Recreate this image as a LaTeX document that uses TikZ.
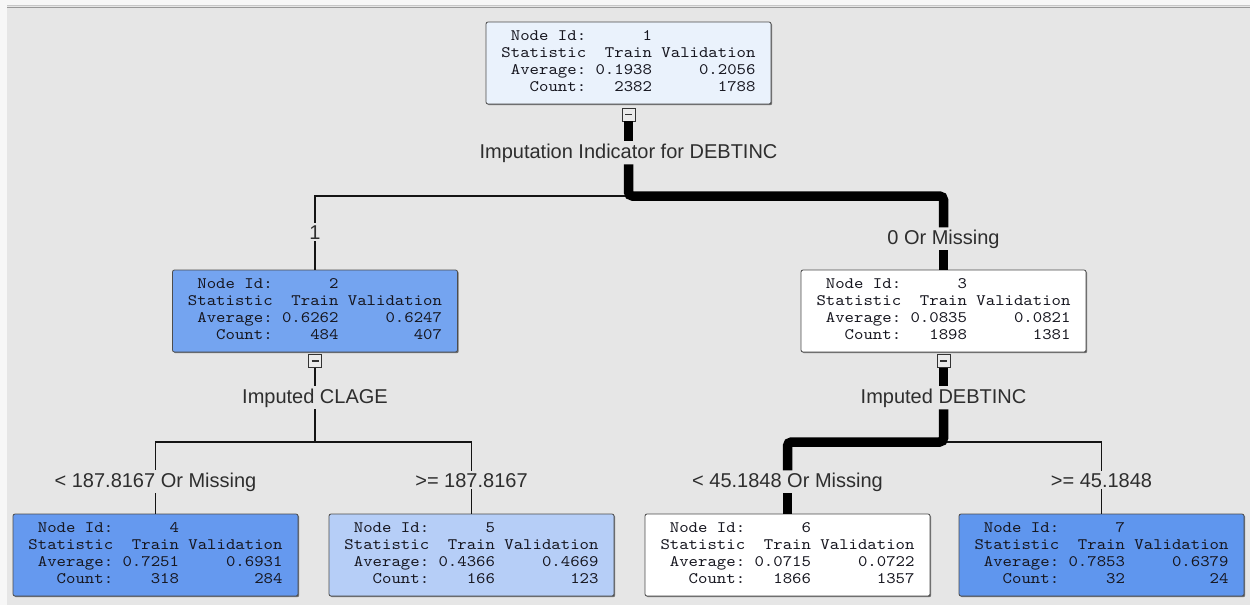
\documentclass[tikz,border=0pt]{standalone}
\usepackage{fontspec}
\usetikzlibrary{shadows}
\newfontfamily\lblfont{Liberation Sans}
\newfontfamily\nodefont{lmmono10-regular.otf}[FakeStretch=1.12]
\definecolor{outerbg}{HTML}{F7F7F7}
\definecolor{panelbg}{HTML}{E6E6E6}
\definecolor{nodetext}{HTML}{16161F}
\definecolor{lbltext}{HTML}{2E2E2E}
\definecolor{fillA}{HTML}{EAF2FC}
\definecolor{fillB}{HTML}{74A4F0}
\definecolor{fillC}{HTML}{B6CEF7}
\definecolor{fillD}{HTML}{6599EF}
\definecolor{fillE}{HTML}{5F96EE}
\newcommand{\nodestats}[5]{{\nodefont\fontsize{16}{17}\selectfont
\begin{tabular}{@{}r@{\ }r@{\ }r@{}}
Node Id: & #1 & \\
Statistic & Train & Validation\\
Average: & #2 & #3\\
Count: & #4 & #5
\end{tabular}}}
\tikzset{
  statbox/.style={draw=black!70, line width=0.8pt, rounded corners=2pt,
    minimum width=285pt, minimum height=82pt, inner sep=0pt, text=nodetext,
    drop shadow={shadow xshift=1.2pt, shadow yshift=-1.2pt, opacity=0.5, fill=black}},
  edgelabel/.style={font=\lblfont\fontsize{20}{22}\selectfont, text=lbltext,
    inner sep=2pt, anchor=base},
  collapse/.style={draw=black!80, fill=white!92!black, line width=0.8pt,
    minimum size=13pt, inner sep=0pt,
    path picture={\draw[black!80, line width=1.3pt]
      ([xshift=-3.5pt]path picture bounding box.center) --
      ([xshift=3.5pt]path picture bounding box.center);}},
  thinline/.style={draw=black!92, line width=1.6pt},
  thickline/.style={draw=black, line width=9.5pt, rounded corners=4pt}
}
\begin{document}
\begin{tikzpicture}[x=1pt, y=-1pt]
\useasboundingbox (0,0) rectangle (1250,605);
\fill[outerbg] (0,0) rectangle (1250,605);
\fill[panelbg] (7,5) rectangle (1250,605);
\draw[black!22, line width=1pt] (7,5.5) -- (1250,5.5);
\draw[black!40, line width=1.5pt] (7,7.5) -- (1250,7.5);

% tree nodes
\node[statbox, fill=fillA] (n1) at (628.5,63) {\nodestats{1}{0.1938}{0.2056}{2382}{1788}};
\node[statbox, fill=fillB] (n2) at (315,311) {\nodestats{2}{0.6262}{0.6247}{484}{407}};
\node[statbox, fill=white] (n3) at (943.5,311) {\nodestats{3}{0.0835}{0.0821}{1898}{1381}};
\node[statbox, fill=fillD] (n4) at (155.5,555) {\nodestats{4}{0.7251}{0.6931}{318}{284}};
\node[statbox, fill=fillC] (n5) at (471.5,555) {\nodestats{5}{0.4366}{0.4669}{166}{123}};
\node[statbox, fill=white] (n6) at (787.5,555) {\nodestats{6}{0.0715}{0.0722}{1866}{1357}};
\node[statbox, fill=fillE] (n7) at (1101.5,555) {\nodestats{7}{0.7853}{0.6379}{32}{24}};

% collapse buttons
\node[collapse] (b1) at (628.5,114.5) {};
\node[collapse] (b2) at (315,361) {};
\node[collapse] (b3) at (943.5,361) {};

% split and branch labels
\node[edgelabel] (l1) at (628.5,158) {Imputation Indicator for DEBTINC};
\node[edgelabel] (e12) at (315,239) {1};
\node[edgelabel] (e13) at (943.5,244) {0 Or Missing};
\node[edgelabel] (l2) at (315,403) {Imputed CLAGE};
\node[edgelabel] (l3) at (943.5,403) {Imputed DEBTINC};
\node[edgelabel] (e24) at (155.5,487) {< 187.8167 Or Missing};
\node[edgelabel] (e25) at (471.5,487) {>= 187.8167};
\node[edgelabel] (e36) at (787.5,487) {< 45.1848 Or Missing};
\node[edgelabel] (e37) at (1101.5,487) {>= 45.1848};

% junctions
\coordinate (j1) at (628.5,196);
\coordinate (j2) at (315,442);
\coordinate (j3) at (943.5,442);

% thin connectors
\draw[thinline] (j1) -| (e12.north);
\draw[thinline] (e12.south) -- (n2.north);
\draw[thinline] (b2.south) -- (l2.north);
\draw[thinline] (l2.south) -- (j2);
\draw[thinline] (j2) -| (e24.north);
\draw[thinline] (j2) -| (e25.north);
\draw[thinline] (e24.south) -- (n4.north);
\draw[thinline] (e25.south) -- (n5.north);
\draw[thinline] (j3) -| (e37.north);
\draw[thinline] (e37.south) -- (n7.north);

% thick (selected) path
\draw[thickline] (b1.south) -- (l1.north);
\draw[thickline] (l1.south) -- (j1) -| (e13.north);
\draw[thickline] (e13.south) -- (n3.north);
\draw[thickline] (b3.south) -- (l3.north);
\draw[thickline] (l3.south) -- (j3) -| (e36.north);
\draw[thickline] (e36.south) -- (n6.north);
\end{tikzpicture}
\end{document}
